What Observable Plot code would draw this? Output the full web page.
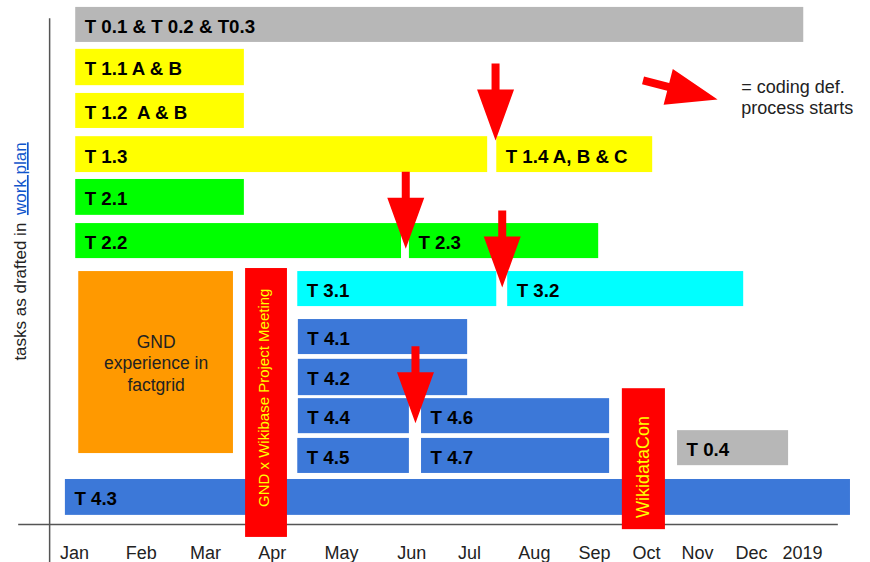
<!DOCTYPE html>
<html>
<head>
<meta charset="utf-8">
<script src="https://cdn.jsdelivr.net/npm/d3@7"></script>
<script src="https://cdn.jsdelivr.net/npm/@observablehq/plot@0.6"></script>
<style>
  html, body { margin: 0; padding: 0; background: #fff; }
  svg a text { text-decoration: underline; }
</style>
</head>
<body>
<div id="chart"></div>
<script>
// ---- Data (x in months from Jan label, y in lane units from top) ----
const tasks      = ["T 0.1 & T 0.2 & T0.3", "T 1.1 A & B", "T 1.2\u00a0 A & B", "T 1.3", "T 1.4 A, B & C",
                    "T 2.1", "T 2.2", "T 2.3", "T 3.1", "T 3.2",
                    "T 4.1", "T 4.2", "T 4.4", "T 4.6", "T 4.5", "T 4.7", "T 0.4", "T 4.3"];
const taskGroup  = ["WP0", "WP1", "WP1", "WP1", "WP1",
                    "WP2", "WP2", "WP2", "WP3", "WP3",
                    "WP4", "WP4", "WP4", "WP4", "WP4", "WP4", "WP0", "WP4"];
const taskStart  = [0.02, 0.02, 0.02, 0.02, 6.96,
                    0.02, 0.02, 5.52, 3.68, 7.14,
                    3.69, 3.69, 3.69, 5.72, 3.68, 5.72, 9.94, -0.15];
const taskEnd    = [12.02, 2.80, 2.80, 6.81, 9.53,
                    2.80, 5.39, 8.64, 6.96, 11.03,
                    6.48, 6.48, 5.52, 8.82, 5.52, 8.82, 11.77, 12.79];
const taskTop    = [0.16, 1.13, 2.15, 3.15, 3.15,
                    4.14, 5.16, 5.16, 6.27, 6.27,
                    7.38, 8.30, 9.21, 9.21, 10.13, 10.13, 9.95, 11.08];
const taskBottom = [0.97, 1.97, 2.96, 3.98, 3.98,
                    4.97, 5.97, 5.97, 7.08, 7.08,
                    8.19, 9.14, 10.02, 10.02, 10.94, 10.94, 10.76, 11.91];

const blockLabel  = ["GND\nexperience in\nfactgrid"];
const blockStart  = [0.07];
const blockEnd    = [2.62];
const blockTop    = [6.27];
const blockBottom = [10.48];

const events      = ["GND x Wikibase Project Meeting", "WikidataCon"];
const eventStart  = [2.82, 9.03];
const eventEnd    = [3.51, 9.74];
const eventTop    = [6.20, 8.98];
const eventBottom = [12.42, 12.24];
const eventLabelX = [3.13, 9.38];
const eventLabelY = [9.19, 10.79];

// arrow tips: "coding def. process starts"
const arrowX      = [6.94, 5.46, 7.05, 5.62, 10.60];
const arrowY      = [3.24, 5.74, 6.64, 9.78, 2.29];
const arrowAngle  = [0, 0, 0, 0, -75.6];
const legendText  = ["= coding def.\nprocess starts"];
const legendX     = [10.99];
const legendY     = [2.22];

const months      = ["Jan", "Feb", "Mar", "Apr", "May", "Jun", "Jul", "Aug", "Sep", "Oct", "Nov", "Dec", "2019"];
const monthPos    = [0, 1.10, 2.16, 3.26, 4.40, 5.56, 6.51, 7.58, 8.57, 9.43, 10.27, 11.16, 12];
const monthLabelY = 12.79;

const axisY = 12.12, axisX1 = -0.92, axisX2 = 12.59;
const vAxisX = -0.41, vAxisY1 = 0.42, vAxisY2 = 13;
const yLabelX = -0.89, yLabelBottom = 8.33, yLabelTop = 3.28;

// ---- Build tables ----
const taskData  = tasks.map((t, i) => ({task: t, group: taskGroup[i], x1: taskStart[i], x2: taskEnd[i], y1: taskTop[i], y2: taskBottom[i]}));
const blockData = blockLabel.map((t, i) => ({label: t, group: "GND", x1: blockStart[i], x2: blockEnd[i], y1: blockTop[i], y2: blockBottom[i]}));
const eventData = events.map((t, i) => ({label: t, group: "event", x1: eventStart[i], x2: eventEnd[i], y1: eventTop[i], y2: eventBottom[i], lx: eventLabelX[i], ly: eventLabelY[i]}));
const arrowData = arrowX.map((x, i) => ({x, y: arrowY[i], angle: arrowAngle[i]}));
const monthData = months.map((m, i) => ({label: m, x: monthPos[i]}));

// custom arrow symbol: tip at origin, pointing down
const arrowSymbol = {
  draw(ctx) {
    ctx.moveTo(0, 0);
    ctx.lineTo(18.5, -51);
    ctx.lineTo(4, -51);
    ctx.lineTo(4, -77);
    ctx.lineTo(-4, -77);
    ctx.lineTo(-4, -51);
    ctx.lineTo(-18.5, -51);
    ctx.closePath();
  }
};

const font = "'Liberation Sans', Arial, Helvetica, sans-serif";

const plot = Plot.plot({
  width: 870,
  height: 562,
  margin: 0,
  style: {fontFamily: font, background: "#fff"},
  x: {domain: [0, 12], range: [74, 802.04], axis: null},
  y: {domain: [0, 13], range: [0, 562], axis: null},
  color: {
    domain: ["WP0", "WP1", "WP2", "WP3", "WP4", "GND", "event"],
    range: ["#b7b7b7", "#ffff00", "#00ff00", "#00ffff", "#3c78d8", "#ff9900", "#ff0000"]
  },
  marks: [
    // axis lines
    Plot.ruleY([axisY], {x1: axisX1, x2: axisX2, stroke: "#555", strokeWidth: 1.5}),
    Plot.ruleX([vAxisX], {y1: vAxisY1, y2: vAxisY2, stroke: "#555", strokeWidth: 1.5}),
    // month labels
    Plot.text(monthData, {x: "x", y: () => monthLabelY, text: "label", fontSize: 18, fill: "#222"}),
    // y axis label
    Plot.text(["tasks as drafted in"], {x: () => yLabelX, y: () => yLabelBottom, text: d => d, rotate: -90, textAnchor: "start", fontSize: 17, fill: "#222"}),
    Plot.text(["work plan"], {x: () => yLabelX, y: () => yLabelTop, text: d => d, rotate: -90, textAnchor: "end", fontSize: 17, fill: "#1155cc", href: () => "#"}),
    // task bars
    Plot.rect(taskData, {x1: "x1", x2: "x2", y1: "y1", y2: "y2", fill: "group"}),
    Plot.text(taskData, {x: "x1", y: d => (d.y1 + d.y2) / 2, text: "task", textAnchor: "start", dx: 9, dy: 2, fontSize: 18.7, fontWeight: "bold", fill: "#000"}),
    // GND experience block
    Plot.rect(blockData, {x1: "x1", x2: "x2", y1: "y1", y2: "y2", fill: "group"}),
    Plot.text(blockData, {x: d => (d.x1 + d.x2) / 2, y: d => (d.y1 + d.y2) / 2, text: "label", fontSize: 17.5, lineHeight: 1.23, fill: "#222"}),
    // events
    Plot.rect(eventData, {x1: "x1", x2: "x2", y1: "y1", y2: "y2", fill: "group"}),
    Plot.text(eventData.slice(0, 1), {x: "lx", y: "ly", text: "label", rotate: -90, fontSize: 15, fill: "#ffff00"}),
    Plot.text(eventData.slice(1), {x: "lx", y: "ly", text: "label", rotate: -90, fontSize: 18, fill: "#ffff00"}),
    // arrows
    Plot.dot(arrowData, {x: "x", y: "y", rotate: "angle", symbol: arrowSymbol, fill: "#ff0000", stroke: "none"}),
    // legend text
    Plot.text(legendText, {x: () => legendX[0], y: () => legendY[0], text: d => d, textAnchor: "start", fontSize: 18, lineHeight: 1.22, fill: "#222"})
  ]
});

document.getElementById("chart").appendChild(plot);
</script>
</body>
</html>
